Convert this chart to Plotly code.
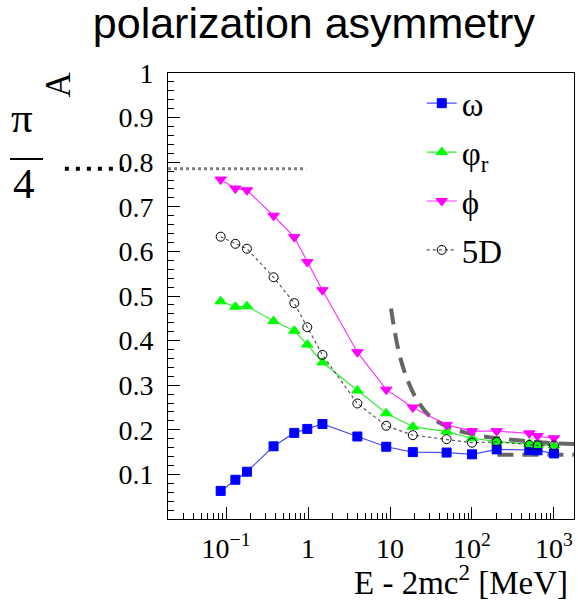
import math
import plotly.graph_objects as go

# Energy above threshold, E - 2mc^2 [MeV]
energy = [0.086, 0.13, 0.18, 0.38, 0.68, 0.98, 1.5, 4.0, 9.0, 19, 49, 100, 200, 500, 630, 1000]

# Polarization asymmetry A for each estimator
a_omega = [0.063, 0.088, 0.106, 0.163, 0.193, 0.202, 0.213, 0.185, 0.162, 0.150, 0.149, 0.145, 0.156, 0.155, 0.154, 0.147]
a_phi_r = [0.488, 0.476, 0.477, 0.444, 0.422, 0.391, 0.351, 0.288, 0.237, 0.207, 0.196, 0.181, 0.174, 0.168, 0.166, 0.165]
a_phi = [0.761, 0.741, 0.737, 0.680, 0.632, 0.576, 0.513, 0.374, 0.290, 0.250, 0.211, 0.197, 0.197, 0.192, 0.186, 0.181]
a_5d = [0.633, 0.617, 0.606, 0.542, 0.484, 0.430, 0.368, 0.259, 0.209, 0.188, 0.179, 0.171, 0.173, 0.166, 0.165, 0.165]

# High-energy asymptotic curves (gray dashed)
asym_E = [10.3, 11.5, 13.2, 16, 21.2, 30.8, 49, 86, 166, 385, 813, 1755]
asym_A = [0.472, 0.417, 0.365, 0.316, 0.268, 0.230, 0.208, 0.193, 0.183, 0.176, 0.171, 0.168]
flat_E = [204, 1755]
flat_A = [0.144, 0.144]

# Low-energy limit pi/4
limit_E = [0.0196, 0.95]
limit_A = [math.pi / 4, math.pi / 4]

x_tickvals = [0.1, 1, 10, 100, 1000]
x_ticktext = ["10<sup>\u22121</sup>", "1", "10", "10<sup>2</sup>", "10<sup>3</sup>"]
y_tickvals = [0.1, 0.2, 0.3, 0.4, 0.5, 0.6, 0.7, 0.8, 0.9, 1.0]
y_ticktext = ["0.1", "0.2", "0.3", "0.4", "0.5", "0.6", "0.7", "0.8", "0.9", "1"]

SERIF = "Liberation Serif"
SANS = "Liberation Sans"
GRAY = "#666666"

fig = go.Figure()

fig.add_trace(go.Scatter(x=limit_E, y=limit_A, mode="lines", showlegend=False,
                         line=dict(color="#808080", width=3, dash="dot"), hoverinfo="skip"))
fig.add_trace(go.Scatter(x=asym_E, y=asym_A, mode="lines", showlegend=False,
                         line=dict(color=GRAY, width=4, dash="16px,9px", shape="spline"), hoverinfo="skip"))
fig.add_trace(go.Scatter(x=flat_E, y=flat_A, mode="lines", showlegend=False,
                         line=dict(color=GRAY, width=4, dash="16px,9px"), hoverinfo="skip"))

series = [
    ("\u03c9", a_omega, "#0000ff", "rgba(0,0,255,0.7)", "square", 9, "solid"),
    ("\u03c6<sub>r</sub>", a_phi_r, "#00ff00", "rgba(0,230,0,0.8)", "triangle-up", 10, "solid"),
    ("\u03d5", a_phi, "#ff00ff", "rgba(255,0,255,0.8)", "triangle-down", 10, "solid"),
    ("5D", a_5d, "#000000", "#555555", "circle-open", 9, "dot"),
]
for i, (name, vals, col, lcol, sym, size, dash) in enumerate(series):
    fig.add_trace(go.Scatter(
        x=energy, y=vals, mode="lines+markers", name=name, legendgroup=f"g{i}",
        line=dict(color=lcol, width=1.2, dash=dash),
        marker=dict(symbol=sym, size=size, color=col, line=dict(color=col, width=1)),
    ))

axis_common = dict(showgrid=False, zeroline=False, showline=True, linecolor="black",
                   linewidth=1, mirror=True, ticks="inside", tickcolor="black",
                   tickfont=dict(family=SERIF, size=28, color="black"))

fig.update_xaxes(type="log", range=[math.log10(0.0196), math.log10(1755)],
                 tickvals=x_tickvals, ticktext=x_ticktext, ticklen=12,
                 minor=dict(ticks="inside", ticklen=6, tickcolor="black",
                            tickvals=[m * 10 ** d for d in range(-2, 4) for m in range(2, 10)]),
                 ticklabelstandoff=4, **axis_common)
fig.update_yaxes(range=[0, 1], tickvals=y_tickvals, ticktext=y_ticktext, ticklen=12,
                 minor=dict(ticks="inside", ticklen=6, tickcolor="black", dtick=0.02, tick0=0),
                 ticklabelstandoff=8, **axis_common)

annotations = [
    dict(text="E - 2mc<sup>2</sup> [MeV]", xref="paper", yref="paper", x=0.99, y=-0.137,
         xanchor="right", yanchor="middle", showarrow=False,
         font=dict(family=SERIF, size=33, color="black")),
    dict(text="A", xref="paper", yref="paper", x=-0.272, y=0.973, textangle=-90,
         xanchor="center", yanchor="middle", showarrow=False,
         font=dict(family=SERIF, size=35, color="black")),
    dict(text="\u03c0", xref="paper", yref="paper", x=-0.36, y=0.9,
         xanchor="center", yanchor="middle", showarrow=False,
         font=dict(family=SERIF, size=43, color="black")),
    dict(text="4", xref="paper", yref="paper", x=-0.355, y=0.752,
         xanchor="center", yanchor="middle", showarrow=False,
         font=dict(family=SERIF, size=43, color="black")),
]

shapes = [
    # fraction bar of pi/4
    dict(type="line", xref="paper", yref="paper", x0=-0.389, x1=-0.308, y0=0.807, y1=0.807,
         line=dict(color="black", width=2)),
    # dotted pointer from pi/4 to the axis
    dict(type="line", xref="paper", yref="paper", x0=-0.254, x1=-0.105,
         y0=math.pi / 4, y1=math.pi / 4,
         line=dict(color="black", width=4, dash="4px,7px")),
]

fig.update_layout(
    width=578, height=601,
    margin=dict(l=168, r=4, t=73, b=82),
    paper_bgcolor="white", plot_bgcolor="white",
    title=dict(text="polarization asymmetry", x=0.543, xref="container", xanchor="center",
               y=1 - 23 / 601, yref="container", yanchor="middle",
               font=dict(family=SANS, size=43, color="black")),
    legend=dict(x=0.625, y=0.995, xanchor="left", yanchor="top", bgcolor="rgba(0,0,0,0)",
                font=dict(family=SERIF, size=33, color="black"), tracegroupgap=3,
                itemwidth=30),
    annotations=annotations, shapes=shapes,
    showlegend=True,
)

fig.write_html("out.html")
